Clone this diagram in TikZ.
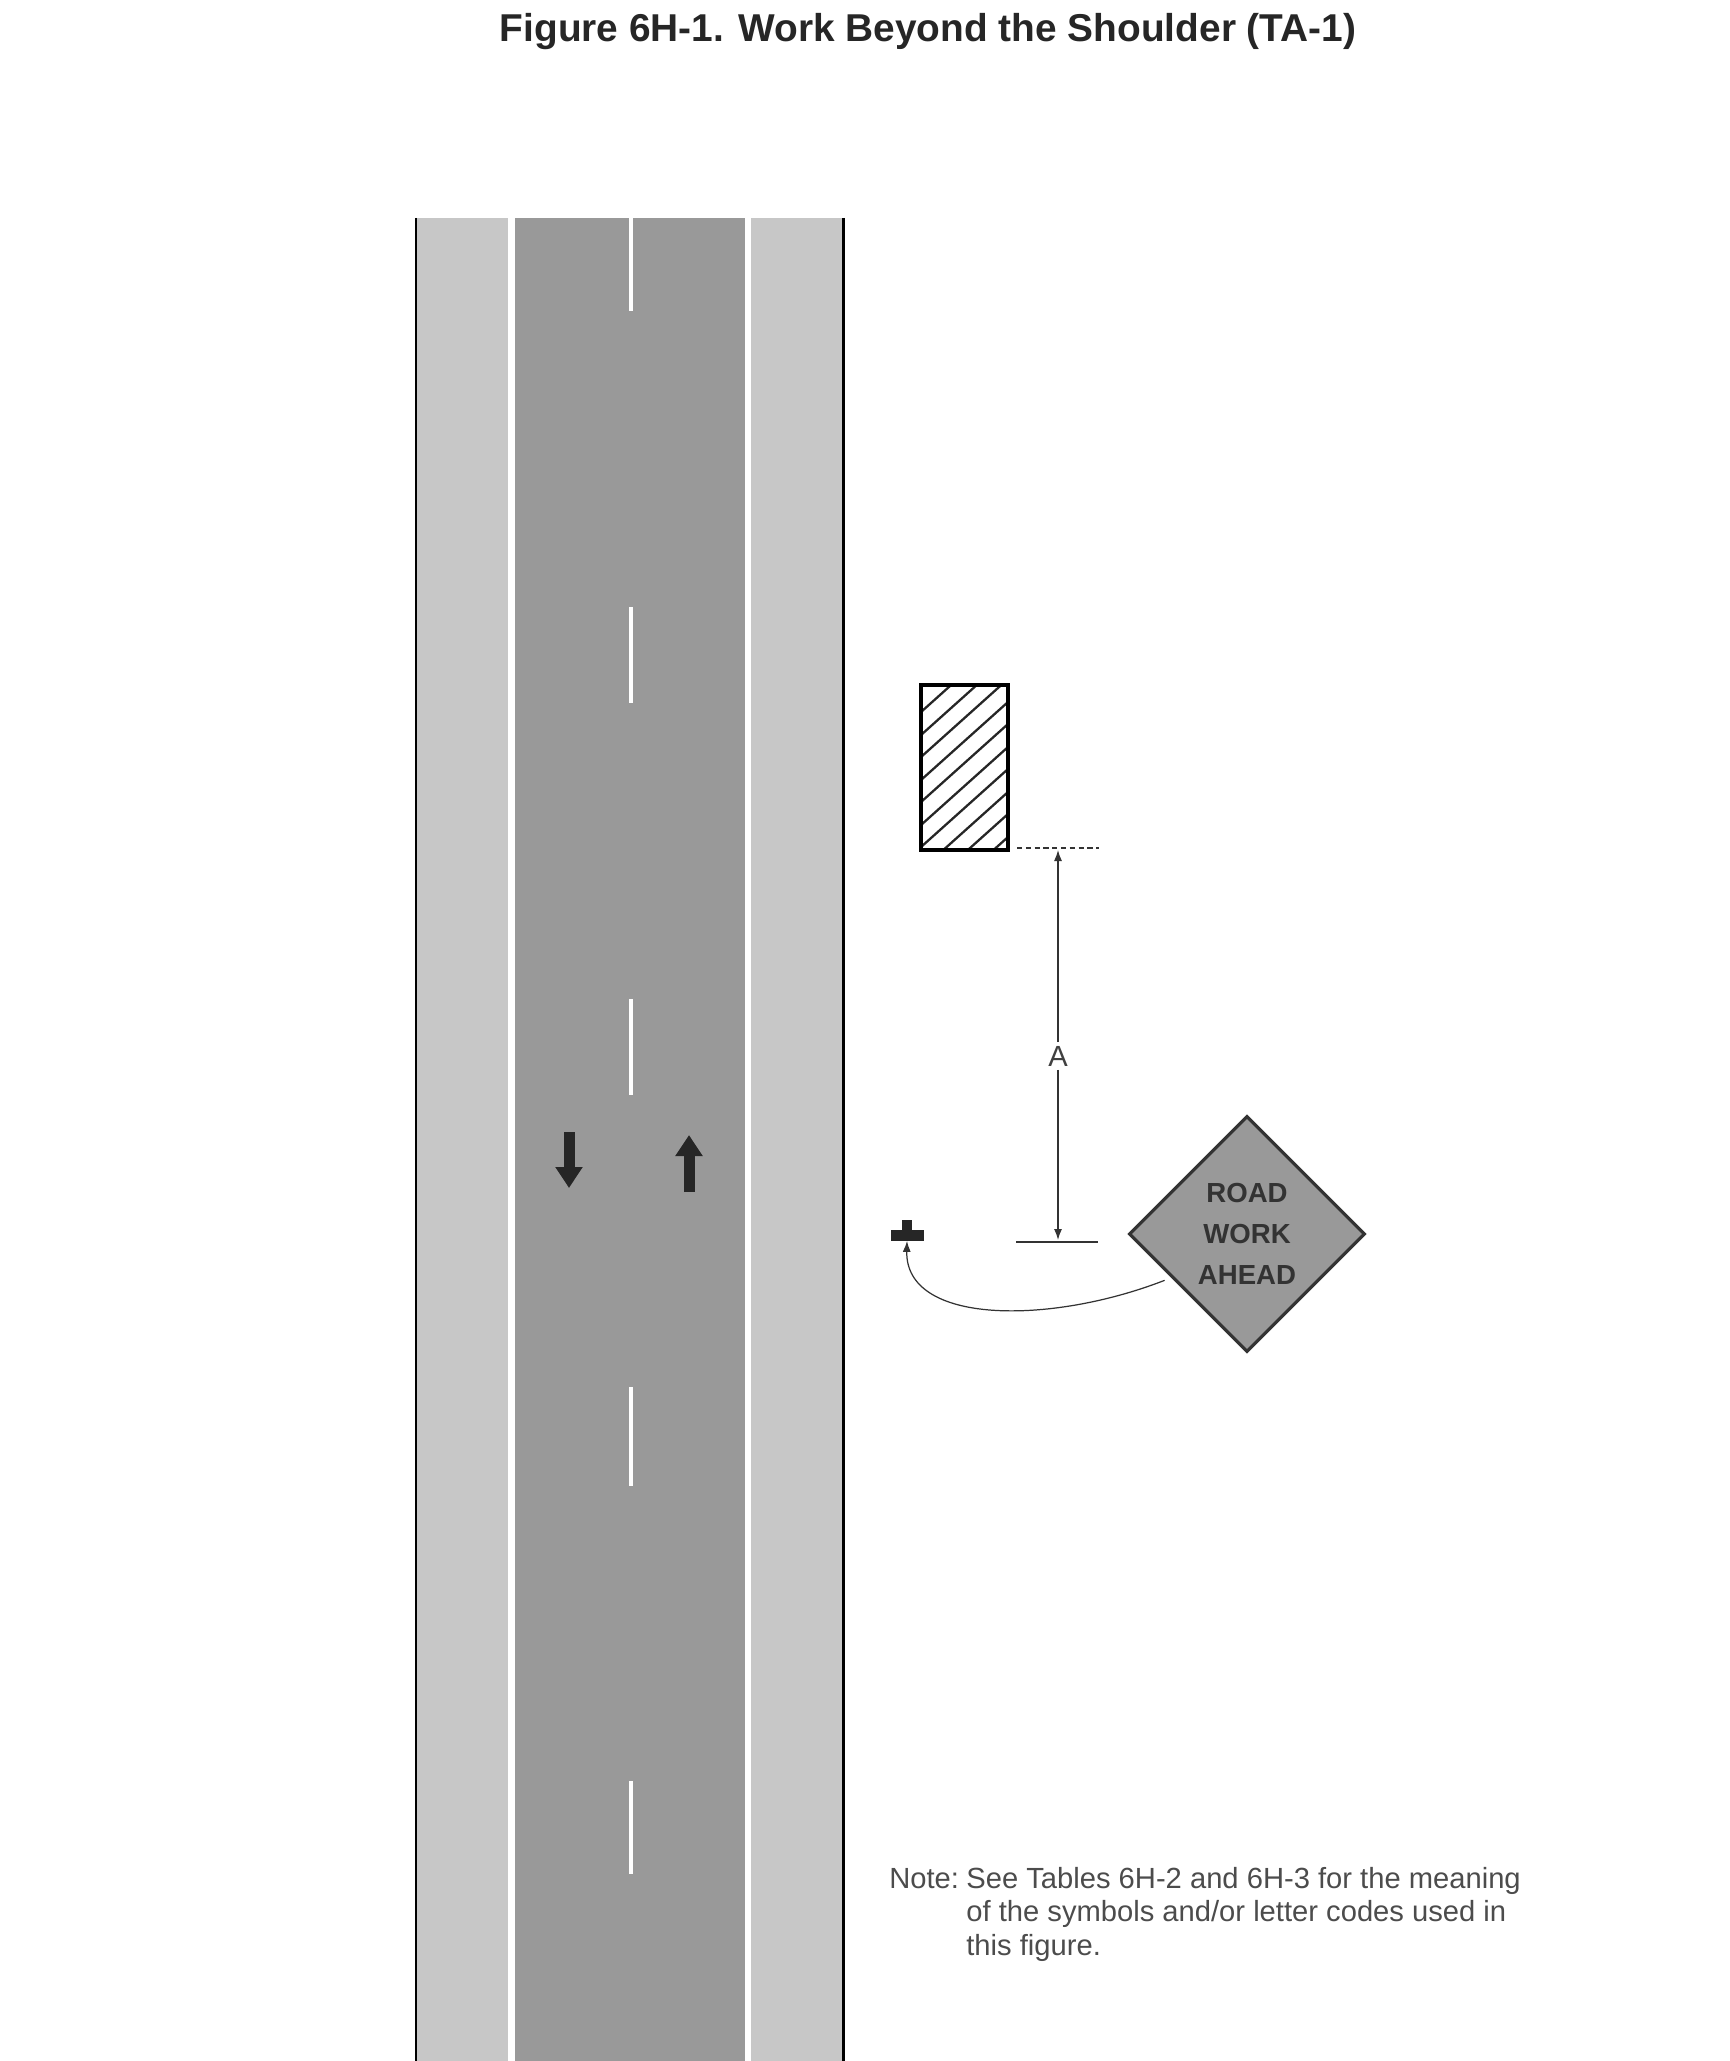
\documentclass[tikz,border=0pt]{standalone}
\usepackage{fontspec}
\setmainfont{Liberation Sans}
\usepackage{xcolor}
\usetikzlibrary{arrows.meta,positioning,shapes.geometric}
\definecolor{roadgray}{gray}{0.6}
\definecolor{shouldergray}{gray}{0.78}
\begin{document}
\begin{tikzpicture}[
  x=0.02cm, y=-0.02cm,
  dim/.style={draw=black!80, line width=0.7pt},
  arr/.style={-{Latex[length=2.2mm,width=1.6mm]}, line width=0.7pt, draw=black!80},
  lane/.style={-{Triangle[length=0.42cm,width=0.52cm]}, line width=0.22cm, draw=black!85},
  stripe/.style={white, line width=2.2pt},
  notetext/.style={anchor=base west, font=\fontsize{16.6}{19}\selectfont, text=black!70, inner sep=0pt}
]
\useasboundingbox (0,0) rectangle (1729,2061);

\fill[shouldergray] (415,218) rectangle (508,2061);
\fill[shouldergray] (751,218) rectangle (843,2061);
\fill[roadgray] (515,218) rectangle (745,2061);
\draw[line width=1.7pt] (416,218) -- (416,2061);
\draw[line width=1.7pt] (843,218) -- (843,2061);

\draw[stripe] (631,218) -- (631,311);
\draw[stripe] (631,607) -- (631,703);
\draw[stripe] (631,999) -- (631,1095);
\draw[stripe] (631,1387) -- (631,1486);
\draw[stripe] (631,1781) -- (631,1874);

\draw[lane] (569,1132) -- (569,1188);
\draw[lane] (689,1192) -- (689,1135);

\begin{scope}
  \clip (921,685) rectangle (1008,850);
  \foreach \ystart in {712,735,757,780,802,825,847,870,892,915,937} {
    \draw[line width=1.3pt, black!85] (921,\ystart) -- (1008,\ystart-78);
  }
\end{scope}
\draw[line width=1.8pt] (921,685) rectangle (1008,850);

\coordinate (dimtop) at (1058,850);
\coordinate (dimbot) at (1058,1240);
\node[fill=white, inner sep=2pt, font=\fontsize{16.6}{19}\selectfont, text=black!75] (dimlabel) at (1058,1056) {A};
\coordinate (toplineL) at (1017,848);
\coordinate (toplineR) at (1099,848);
\coordinate (botlineL) at (1016,1242);
\coordinate (botlineR) at (1098,1242);
\draw[dim, densely dashed] (toplineL) -- (toplineR);
\draw[dim] (botlineL) -- (botlineR);
\draw[arr] (dimlabel) -- (dimtop);
\draw[arr] (dimlabel) -- (dimbot);

\node[diamond, draw=black!80, line width=1.8pt, fill=roadgray, minimum width=4.72cm, minimum height=4.72cm, inner sep=0pt, align=center, text=black!80, font=\fontsize{15.7}{23.5}\bfseries\selectfont] (sign) at (1247,1234) {ROAD\\WORK\\AHEAD};

\node[fill=black!85, minimum width=0.66cm, minimum height=0.22cm, inner sep=0pt] (post) at (907,1235) {};
\node[fill=black!85, minimum width=0.2cm, minimum height=0.2cm, inner sep=0pt] (poststem) at (907,1225) {};
\draw[arr, shorten <=4pt] (sign.210) .. controls (1050,1325) and (905,1325) .. (post.south);

\node[font=\fontsize{22.1}{26}\bfseries\selectfont, text=black!85, inner sep=0pt] (title) at (928,32) {Figure 6H-1. Work Beyond the Shoulder (TA-1)};

\node[notetext] (noteA) at (889,1888) {Note:};
\node[notetext] (noteB) at (966,1888) {See Tables 6H-2 and 6H-3 for the meaning};
\node[notetext] (noteC) at (966,1921) {of the symbols and/or letter codes used in};
\node[notetext] (noteD) at (966,1955) {this figure.};
\end{tikzpicture}
\end{document}
